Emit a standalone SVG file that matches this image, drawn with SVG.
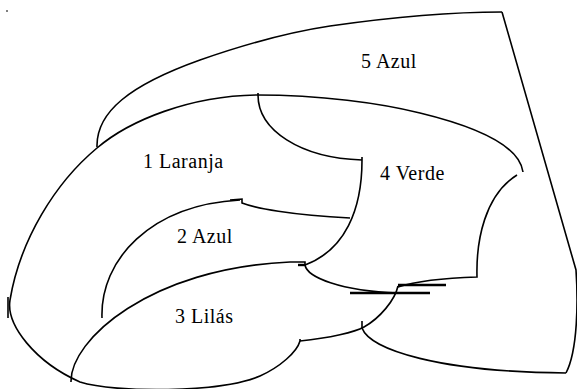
<svg xmlns="http://www.w3.org/2000/svg" width="577" height="389" viewBox="0 0 577 389">
  <style>
    .edge { fill: none; stroke: #000; stroke-width: 1.6; stroke-linecap: butt; stroke-linejoin: miter; }
    .bold { fill: none; stroke: #000; stroke-width: 2.4; }
    .label { font-family: "Liberation Serif", "Times New Roman", serif; font-size: 20px; letter-spacing: 0.5px; fill: #000; }
  </style>
  <rect width="577" height="389" fill="#fff"/>

  <!-- region borders -->
  <g id="borders">
    <!-- speck top-left -->
    <line x1="6" y1="11" x2="8" y2="11" stroke="#000" stroke-width="1"/>
    <!-- outer top border of region 5 -->
    <path class="edge" d="M97,147 C96,112 130,85 200,60 C240,46 290,32 330,26 C400,16 460,12 502,12"/>
    <!-- right border -->
    <path class="edge" d="M502,12 L576,270 C578,300 578,350 566,373"/>
    <!-- big sweeping border: around regions 1 and 3 -->
    <path class="edge" d="M523,172 C520,150 490,130 420,113 C380,103 320,95 257,95 C190,96 130,120 97,148 C55,183 20,240 10,300 C6,325 35,362 80,382 C115,393 220,393 260,376 C280,367 297,352 300,341"/>
    <line class="edge" x1="8" y1="297" x2="8" y2="318"/>
    <!-- region 4 left border -->
    <path class="edge" d="M258,93 L258,95 C258,130 300,158 362,160"/>
    <path class="edge" d="M362,157 L362,160 C362,210 345,250 305,265"/>
    <!-- region 2 top border -->
    <path class="edge" d="M230,200 L242,199 L242,203 C255,208 290,215 350,218"/>
    <!-- region 2 left arc -->
    <path class="edge" d="M102,318 C100,260 150,205 240,200"/>
    <!-- region 3 top arc -->
    <path class="edge" d="M71,382 C70,340 150,268 290,262 L305,262 L305,265"/>
    <line class="bold" x1="298" y1="265" x2="305" y2="265"/>
    <!-- region 4 bottom border -->
    <path class="edge" d="M305,265 C307,277 340,291 398,293"/>
    <!-- double strokes -->
    <line class="bold" x1="350" y1="293" x2="430" y2="293"/>
    <line class="bold" x1="398" y1="285" x2="446" y2="285"/>
    <!-- region 3 right border -->
    <path class="edge" d="M300,339 L300,341 C330,338 355,332 364,327 C380,318 395,300 398,286"/>
    <!-- region 4 right border -->
    <path class="edge" d="M398,287 C420,280 445,278 477,277 C476,240 485,195 517,175"/>
    <!-- bottom right arc -->
    <path class="edge" d="M362,321 L362,328 C370,350 440,372 566,373"/>
  </g>

  <!-- region labels -->
  <g id="region5"><text class="label" x="361" y="68">5 Azul</text></g>
  <g id="region1"><text class="label" x="143" y="168">1 Laranja</text></g>
  <g id="region4"><text class="label" x="380" y="180">4 Verde</text></g>
  <g id="region2"><text class="label" x="177" y="243">2 Azul</text></g>
  <g id="region3"><text class="label" x="175" y="323">3 Lilás</text></g>
</svg>
